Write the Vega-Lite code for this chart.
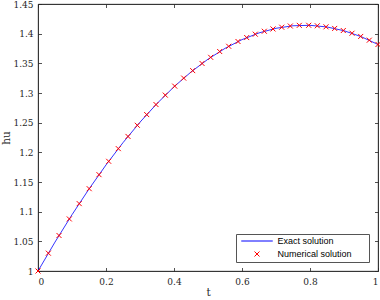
{
  "$schema": "https://vega.github.io/schema/vega-lite/v6.json",
  "width": 340,
  "height": 267,
  "autosize": "none",
  "padding": {"left": 38, "top": 4, "right": 2, "bottom": 29},
  "background": "white",
  "config": {
    "view": {"stroke": "#262626", "strokeWidth": 0.8},
    "axis": {
      "labelFont": "DejaVu Serif", "labelFontSize": 9, "labelColor": "#262626",
      "titleFont": "DejaVu Serif", "titleFontSize": 10.5, "titleFontWeight": "normal", "titleColor": "#262626",
      "domainColor": "#262626", "domainWidth": 0.8, "tickColor": "#262626", "tickWidth": 0.8,
      "tickSize": -3.5, "grid": false
    }
  },
  "datasets": {
    "exact": [
      {"t": 0, "u": 1},
      {"t": 0.05, "u": 1.048729},
      {"t": 0.1, "u": 1.094837},
      {"t": 0.15, "u": 1.138209},
      {"t": 0.2, "u": 1.178736},
      {"t": 0.25, "u": 1.216316},
      {"t": 0.3, "u": 1.250856},
      {"t": 0.35, "u": 1.282271},
      {"t": 0.4, "u": 1.310479},
      {"t": 0.45, "u": 1.335413},
      {"t": 0.5, "u": 1.357009},
      {"t": 0.55, "u": 1.375212},
      {"t": 0.6, "u": 1.389978},
      {"t": 0.65, "u": 1.40127},
      {"t": 0.7, "u": 1.40906},
      {"t": 0.75, "u": 1.413328},
      {"t": 0.8, "u": 1.414063},
      {"t": 0.85, "u": 1.411263},
      {"t": 0.9, "u": 1.404937},
      {"t": 0.95, "u": 1.395099},
      {"t": 1, "u": 1.381773}
    ],
    "numerical": [
      {"t": 0, "u": 1, "series": "Numerical solution"},
      {"t": 0.0305, "u": 1.03003, "series": "Numerical solution"},
      {"t": 0.0618, "u": 1.059852, "series": "Numerical solution"},
      {"t": 0.0921, "u": 1.087732, "series": "Numerical solution"},
      {"t": 0.1212, "u": 1.113568, "series": "Numerical solution"},
      {"t": 0.1506, "u": 1.138713, "series": "Numerical solution"},
      {"t": 0.1794, "u": 1.16239, "series": "Numerical solution"},
      {"t": 0.2079, "u": 1.184873, "series": "Numerical solution"},
      {"t": 0.2362, "u": 1.206245, "series": "Numerical solution"},
      {"t": 0.2647, "u": 1.226792, "series": "Numerical solution"},
      {"t": 0.2921, "u": 1.245606, "series": "Numerical solution"},
      {"t": 0.3197, "u": 1.263612, "series": "Numerical solution"},
      {"t": 0.3471, "u": 1.280533, "series": "Numerical solution"},
      {"t": 0.3744, "u": 1.296441, "series": "Numerical solution"},
      {"t": 0.4021, "u": 1.311592, "series": "Numerical solution"},
      {"t": 0.4285, "u": 1.325097, "series": "Numerical solution"},
      {"t": 0.455, "u": 1.337724, "series": "Numerical solution"},
      {"t": 0.4824, "u": 1.34979, "series": "Numerical solution"},
      {"t": 0.5079, "u": 1.360111, "series": "Numerical solution"},
      {"t": 0.5344, "u": 1.369899, "series": "Numerical solution"},
      {"t": 0.5609, "u": 1.378724, "series": "Numerical solution"},
      {"t": 0.5882, "u": 1.386804, "series": "Numerical solution"},
      {"t": 0.6138, "u": 1.393443, "series": "Numerical solution"},
      {"t": 0.6391, "u": 1.399105, "series": "Numerical solution"},
      {"t": 0.6656, "u": 1.404077, "series": "Numerical solution"},
      {"t": 0.6912, "u": 1.407943, "series": "Numerical solution"},
      {"t": 0.7168, "u": 1.410888, "series": "Numerical solution"},
      {"t": 0.7421, "u": 1.412888, "series": "Numerical solution"},
      {"t": 0.7685, "u": 1.414012, "series": "Numerical solution"},
      {"t": 0.7962, "u": 1.414131, "series": "Numerical solution"},
      {"t": 0.8215, "u": 1.413292, "series": "Numerical solution"},
      {"t": 0.8471, "u": 1.411522, "series": "Numerical solution"},
      {"t": 0.8726, "u": 1.408839, "series": "Numerical solution"},
      {"t": 0.8979, "u": 1.405273, "series": "Numerical solution"},
      {"t": 0.9235, "u": 1.400749, "series": "Numerical solution"},
      {"t": 0.9491, "u": 1.395306, "series": "Numerical solution"},
      {"t": 0.9744, "u": 1.389029, "series": "Numerical solution"},
      {"t": 1, "u": 1.381773, "series": "Numerical solution"}
    ]
  },
  "resolve": {"axis": {"x": "independent", "y": "independent"}},
  "layer": [
    {
      "data": {"name": "exact"},
      "mark": {"type": "line", "strokeWidth": 0.8, "color": "#0000ff", "clip": true},
      "encoding": {
        "x": {"field": "t", "type": "quantitative", "scale": {"domain": [0, 1], "nice": false, "zero": false},
              "axis": {"orient": "bottom", "values": [0, 0.2, 0.4, 0.6, 0.8, 1], "format": "~g", "title": "t", "labelPadding": 10, "titlePadding": 1}},
        "y": {"field": "u", "type": "quantitative", "scale": {"domain": [1, 1.45], "nice": false, "zero": false},
              "axis": {"orient": "left", "values": [1, 1.05, 1.1, 1.15, 1.2, 1.25, 1.3, 1.35, 1.4, 1.45], "format": "~g", "title": "hu", "labelPadding": 8.5, "titlePadding": 1}}
      }
    },
    {
      "data": {"name": "numerical"},
      "mark": {"type": "point", "filled": false, "strokeWidth": 1, "size": 25, "opacity": 1, "clip": false},
      "encoding": {
        "x": {"field": "t", "type": "quantitative",
              "axis": {"orient": "top", "values": [0, 0.2, 0.4, 0.6, 0.8, 1], "labels": false, "title": null}},
        "y": {"field": "u", "type": "quantitative",
              "axis": {"orient": "right", "values": [1, 1.05, 1.1, 1.15, 1.2, 1.25, 1.3, 1.35, 1.4, 1.45], "labels": false, "title": null}},
        "color": {"field": "series", "type": "nominal",
                  "scale": {"domain": ["Exact solution", "Numerical solution"], "range": ["#0000ff", "#ff0000"]},
                  "legend": {"orient": "bottom-right", "title": null, "offset": 9, "padding": 2.5,
                             "fillColor": "white", "strokeColor": "#555555",
                             "labelFont": "Liberation Sans", "labelFontSize": 9, "labelColor": "#000000",
                             "symbolSize": 25, "symbolStrokeWidth": 1, "symbolOffset": 14, "labelOffset": 16,
                             "rowPadding": 3, "labelLimit": 300,
                             "labelExpr": "datum.label + '\u2800\u2800'"}},
        "shape": {"field": "series", "type": "nominal",
                  "scale": {"domain": ["Exact solution", "Numerical solution"], "range": ["M-6.3,0L6.3,0", "M-1,-1L1,1M-1,1L1,-1"]}}
      }
    }
  ]
}
